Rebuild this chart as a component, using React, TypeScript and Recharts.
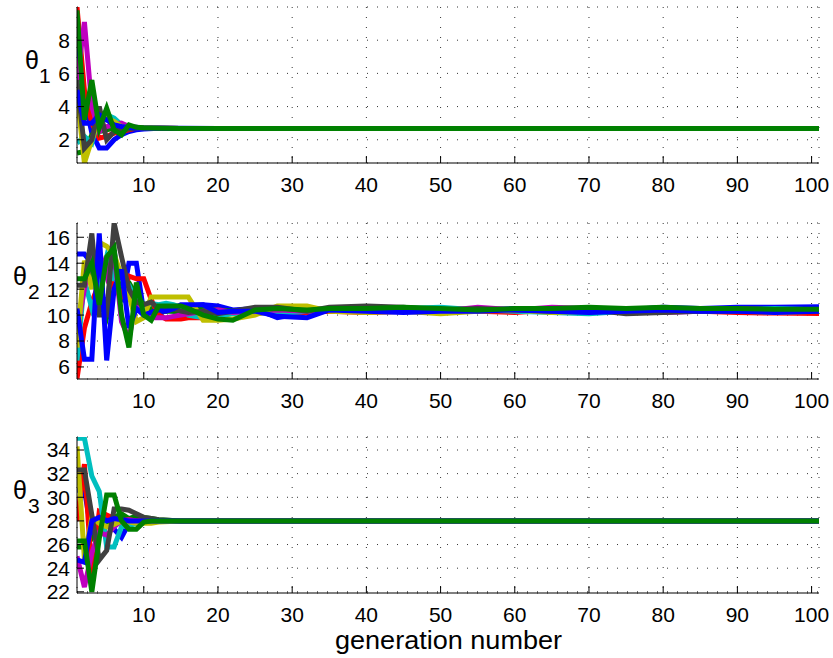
import { LineChart, Line, XAxis, YAxis, CartesianGrid } from 'recharts';

// shared x ticks and MATLAB-style colour cycle
const GEN_TICKS = [10, 20, 30, 40, 50, 60, 70, 80, 90, 100];
const COLORS = ['#0000ff', '#008000', '#ff0000', '#00bfbf', '#bf00bf', '#bfbf00', '#404040', '#0000ff', '#008000'];

// theta 1
const gens1 = [1, 2, 3, 4, 5, 6, 7, 8, 9, 10, 12, 15, 20, 101];
const t1Blue = [7.5, 4.5, 2.4, 1.5, 1.5, 2.0, 2.3, 2.5, 2.6, 2.65, 2.7, 2.7, 2.68, 2.68];
const t1Green = [1.2, 1.3, 2.3, 2.5, 2.6, 2.7, 2.75, 2.75, 2.7, 2.7, 2.68, 2.68, 2.68, 2.68];
const t1Red = [10.0, 5.0, 3.0, 2.1, 2.2, 2.4, 2.5, 2.6, 2.7, 2.7, 2.7, 2.68, 2.68, 2.68];
const t1Cyan = [1.8, 2.2, 1.8, 3.5, 3.5, 3.3, 2.9, 2.8, 2.75, 2.7, 2.7, 2.68, 2.68, 2.68];
const t1Magenta = [5.5, 9.1, 4.0, 2.5, 2.8, 2.9, 3.0, 2.8, 2.75, 2.7, 2.7, 2.68, 2.68, 2.68];
const t1Yellow = [4.8, 0.6, 2.0, 3.3, 3.3, 3.1, 2.8, 2.75, 2.7, 2.7, 2.7, 2.68, 2.68, 2.68];
const t1Gray = [5.6, 1.5, 2.0, 4.0, 2.0, 2.5, 2.6, 2.65, 2.7, 2.7, 2.7, 2.68, 2.68, 2.68];
const t1Blue2 = [5.0, 3.0, 3.0, 3.5, 3.2, 2.9, 2.8, 2.75, 2.7, 2.7, 2.7, 2.68, 2.68, 2.68];
const t1Green2 = [9.8, 3.2, 5.6, 2.7, 3.9, 2.6, 2.3, 2.9, 2.75, 2.72, 2.7, 2.68, 2.68, 2.68];
const theta1Ticks = [2, 4, 6, 8];

// theta 2
const gens2 = [1, 2, 3, 4, 5, 6, 7, 8, 9, 10, 11, 12, 13, 14, 15, 16, 18, 20, 22, 25, 28, 32, 35, 40, 45, 50, 55, 60, 65, 70, 75, 80, 85, 90, 95, 101];
const t2Blue = [14.7, 14.7, 14.0, 12.0, 10.6, 15.0, 11.0, 14.0, 14.0, 10.2, 10.3, 10.0, 10.4, 10.3, 10.6, 10.7, 10.8, 10.7, 10.4, 10.5, 9.8, 10.2, 10.5, 10.4, 10.5, 10.3, 10.4, 10.5, 10.4, 10.5, 10.4, 10.6, 10.5, 10.6, 10.6, 10.65];
const t2Green = [8.3, 12.8, 13.5, 11.0, 9.8, 12.0, 13.0, 12.5, 11.5, 10.8, 10.5, 10.4, 10.3, 10.3, 10.2, 10.4, 10.5, 10.4, 10.3, 10.5, 10.4, 10.5, 10.4, 10.5, 10.4, 10.5, 10.4, 10.4, 10.5, 10.4, 10.5, 10.4, 10.5, 10.4, 10.4, 10.4];
const t2Red = [5.1, 9.0, 11.0, 12.5, 13.8, 12.0, 11.5, 13.0, 12.8, 12.8, 11.2, 10.0, 9.7, 9.7, 9.7, 9.8, 9.8, 10.0, 10.2, 10.1, 10.3, 10.2, 10.3, 10.2, 10.3, 10.4, 10.3, 10.2, 10.4, 10.3, 10.5, 10.4, 10.3, 10.2, 10.15, 10.12];
const t2Cyan = [6.5, 12.7, 10.5, 12.0, 14.5, 12.8, 12.8, 12.3, 11.0, 10.5, 10.9, 10.8, 10.9, 10.8, 10.6, 10.0, 9.8, 9.9, 10.1, 10.2, 10.1, 10.3, 10.4, 10.3, 10.5, 10.6, 10.4, 10.3, 10.2, 10.1, 10.3, 10.4, 10.3, 10.4, 10.5, 10.4];
const t2Magenta = [8.7, 12.0, 14.8, 14.9, 13.0, 14.8, 9.5, 8.2, 11.0, 10.2, 9.8, 9.8, 9.8, 9.9, 10.0, 10.1, 10.3, 10.4, 10.2, 10.3, 10.4, 10.3, 10.4, 10.5, 10.4, 10.3, 10.6, 10.4, 10.6, 10.5, 10.3, 10.2, 10.3, 10.5, 10.4, 10.4];
const t2Yellow = [7.5, 14.2, 12.0, 15.6, 15.3, 14.7, 13.0, 11.5, 9.5, 9.8, 11.4, 11.4, 11.4, 11.4, 11.4, 11.4, 9.6, 9.6, 9.7, 10.0, 10.7, 10.7, 10.3, 10.2, 10.3, 10.1, 10.3, 10.4, 10.2, 10.3, 10.4, 10.5, 10.4, 10.3, 10.2, 10.3];
const t2Gray = [12.3, 12.3, 16.3, 10.0, 10.0, 17.1, 14.5, 12.0, 11.0, 10.8, 11.0, 10.5, 10.3, 10.5, 10.3, 10.2, 10.3, 10.1, 10.3, 10.6, 10.6, 10.3, 10.6, 10.7, 10.6, 10.4, 10.5, 10.4, 10.3, 10.4, 10.1, 10.2, 10.3, 10.3, 10.4, 10.3];
const t2Blue2 = [10.5, 6.6, 6.6, 16.3, 6.5, 12.0, 13.5, 9.0, 10.5, 10.0, 10.2, 10.4, 10.3, 10.5, 10.8, 10.8, 10.8, 10.2, 10.3, 10.3, 9.9, 9.8, 10.4, 10.3, 10.2, 10.3, 10.3, 10.4, 10.3, 10.2, 10.3, 10.4, 10.3, 10.3, 10.2, 10.3];
const t2Green2 = [12.8, 12.8, 14.0, 10.8, 14.5, 15.2, 10.0, 7.5, 12.5, 10.0, 9.6, 10.7, 10.7, 10.7, 10.7, 10.5, 10.0, 9.7, 9.6, 10.4, 10.5, 10.4, 10.5, 10.5, 10.6, 10.5, 10.4, 10.5, 10.5, 10.6, 10.5, 10.6, 10.5, 10.5, 10.45, 10.45];
const theta2Ticks = [6, 8, 10, 12, 14, 16];

// theta 3
const gens3 = [1, 2, 3, 4, 5, 6, 7, 8, 9, 10, 11, 12, 15, 20, 101];
const t3Blue = [30.6, 30.6, 26.9, 27.8, 28.2, 27.3, 26.6, 27.8, 28.0, 28.1, 28.0, 28.0, 28.0, 28.0, 28.0];
const t3Green = [25.8, 25.8, 26.5, 27.0, 27.5, 28.3, 28.6, 28.2, 28.4, 28.3, 28.2, 28.1, 28.0, 28.0, 28.0];
const t3Red = [28.0, 32.8, 23.5, 28.8, 28.5, 28.2, 28.0, 28.1, 28.0, 28.0, 28.0, 28.0, 28.0, 28.0, 28.0];
const t3Cyan = [35.0, 35.0, 31.8, 30.5, 25.8, 25.8, 27.5, 27.6, 27.8, 27.9, 28.0, 28.0, 28.0, 28.0, 28.0];
const t3Magenta = [25.0, 22.4, 25.3, 27.0, 26.8, 27.5, 28.0, 28.1, 28.0, 28.0, 28.0, 28.0, 28.0, 28.0, 28.0];
const t3Yellow = [34.3, 24.8, 28.3, 27.8, 27.5, 27.7, 28.0, 27.9, 27.8, 27.8, 27.8, 27.9, 28.0, 28.0, 28.0];
const t3Gray = [32.3, 32.3, 28.5, 24.7, 25.5, 29.0, 29.0, 28.9, 28.6, 28.3, 28.2, 28.1, 28.0, 28.0, 28.0];
const t3Blue2 = [24.7, 24.5, 28.0, 28.3, 28.0, 28.2, 28.1, 28.0, 28.0, 28.0, 28.0, 28.0, 28.0, 28.0, 28.0];
const t3Green2 = [26.3, 26.3, 22.0, 26.5, 30.2, 30.2, 28.0, 27.3, 27.3, 27.9, 28.0, 28.0, 28.0, 28.0, 28.0];
const theta3Ticks = [22, 24, 26, 28, 30, 32, 34];

const FONT = '"Liberation Sans", Arial, sans-serif';

function Panel({ top, gens, series, yDomain, yTicks }: {
  top: number; gens: number[]; series: number[][]; yDomain: [number, number]; yTicks: number[];
}) {
  const rows = gens.map((g, i) => {
    const row: Record<string, number> = { gen: g };
    series.forEach((s, k) => { row['s' + k] = s[i]; });
    return row;
  });
  const blank = () => '';
  return (
    <div style={{ position: 'absolute', left: 0, top }}>
      <LineChart width={833} height={200} data={rows} margin={{ top: 7, right: 14, bottom: 0, left: 0 }}>
        <CartesianGrid stroke="#333" strokeDasharray="1 9" />
        <XAxis dataKey="gen" type="number" domain={[1, 101]} ticks={GEN_TICKS} interval={0} allowDataOverflow
          height={37} tickSize={-7} tickMargin={21} stroke="#000" tick={{ fill: '#000', fontSize: 21 }} />
        <XAxis xAxisId="top" orientation="top" dataKey="gen" type="number" domain={[1, 101]} ticks={GEN_TICKS} interval={0}
          allowDataOverflow height={0} tickSize={-7} tickFormatter={blank} stroke="#000" />
        <YAxis type="number" domain={yDomain} ticks={yTicks} interval={0} allowDataOverflow width={77}
          tickSize={-7} tickMargin={14} stroke="#000" tick={{ fill: '#000', fontSize: 21 }} />
        <YAxis yAxisId="right" orientation="right" type="number" domain={yDomain} ticks={yTicks} interval={0}
          allowDataOverflow width={0} tickSize={-7} tickFormatter={blank} stroke="#000" />
        {series.map((_, k) => (
          <Line key={k} type="linear" dataKey={'s' + k} stroke={COLORS[k]} strokeWidth={5}
            dot={false} activeDot={false} isAnimationActive={false} />
        ))}
      </LineChart>
    </div>
  );
}

export default function App() {
  return (
    <div style={{ position: 'absolute', left: 0, top: 0, width: 833, height: 658, background: '#fff', fontFamily: FONT }}>
      <Panel top={0} gens={gens1} yDomain={[0.6, 10]} yTicks={theta1Ticks}
        series={[t1Blue, t1Green, t1Red, t1Cyan, t1Magenta, t1Yellow, t1Gray, t1Blue2, t1Green2]} />
      <Panel top={216} gens={gens2} yDomain={[5.07, 17.1]} yTicks={theta2Ticks}
        series={[t2Blue, t2Green, t2Red, t2Cyan, t2Magenta, t2Yellow, t2Gray, t2Blue2, t2Green2]} />
      <Panel top={430} gens={gens3} yDomain={[21.9, 35.1]} yTicks={theta3Ticks}
        series={[t3Blue, t3Green, t3Red, t3Cyan, t3Magenta, t3Yellow, t3Gray, t3Blue2, t3Green2]} />
      <svg width={833} height={658} style={{ position: 'absolute', left: 0, top: 0, pointerEvents: 'none' }}
        fontFamily={FONT} fill="#000">
        <text x={25} y={69} fontSize={25}>θ</text>
        <text x={39} y={83} fontSize={21}>1</text>
        <text x={13} y={285} fontSize={25}>θ</text>
        <text x={28} y={299} fontSize={21}>2</text>
        <text x={13} y={499} fontSize={25}>θ</text>
        <text x={28} y={513} fontSize={21}>3</text>
        <text x={335} y={649} fontSize={25} textLength={227} lengthAdjust="spacingAndGlyphs">generation number</text>
      </svg>
    </div>
  );
}
